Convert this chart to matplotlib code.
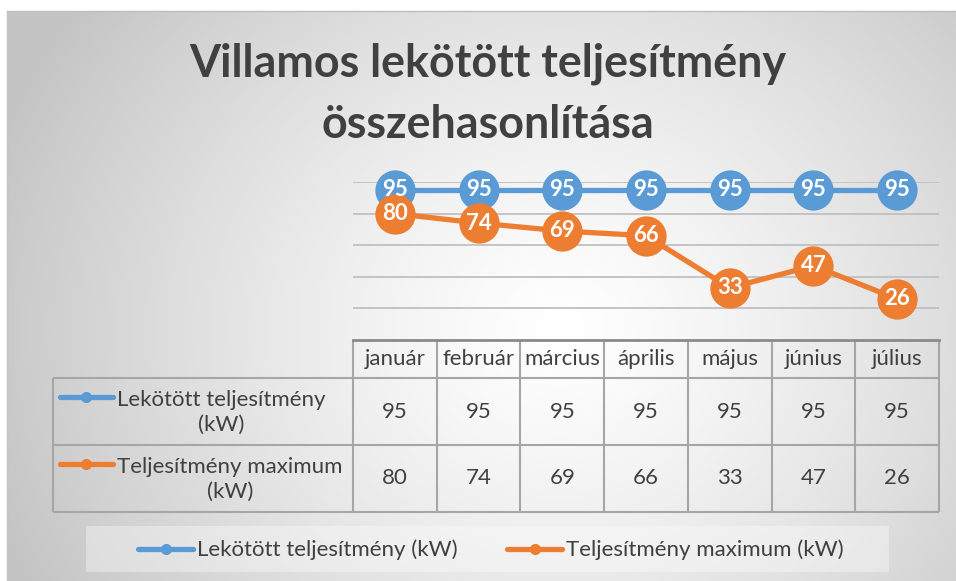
import numpy as np
import matplotlib.pyplot as plt
from matplotlib import transforms
from matplotlib.patches import Rectangle

plt.rcParams['font.family'] = ['Lato', 'DejaVu Sans']

# --- data ---
months = ['január', 'február', 'március', 'április', 'május', 'június', 'július']
lekotott = [95, 95, 95, 95, 95, 95, 95]
maximum = [80, 74, 69, 66, 33, 47, 26]
series_names = ['Lekötött teljesítmény (kW)', 'Teljesítmény maximum (kW)']
row_labels = ['Lekötött teljesítmény\n(kW)', 'Teljesítmény maximum\n(kW)']
title = 'Villamos lekötött teljesítmény\nösszehasonlítása'

BLUE = '#5b9bd5'
ORANGE = '#ed7d31'
TXT = '#404040'
GRID = '#c0c0c0'
TLINE = '#a6a6a6'
FS = 16

W, H = 956, 581
fig = plt.figure(figsize=(W / 100, H / 100), dpi=100)

# --- background: radial grey gradient ---
bg = fig.add_axes([0, 0, 1, 1], zorder=0)
bg.set_xlim(0, W)
bg.set_ylim(H, 0)
bg.axis('off')
yy, xx = np.mgrid[0:H, 0:W]
d = np.hypot(xx - 560, (yy - 330) * 1.1) / 600
shade = 1 - 0.23 * np.clip(d, 0, 1) ** 1.3
shade[:11, :] = 1.0
shade[:, :7] = 1.0
bg.imshow(np.dstack([shade] * 3), extent=(0, W, H, 0), aspect='auto',
          interpolation='bilinear')
bg.plot([7, W], [11, 11], color='#bdbdbd', lw=1)
bg.plot([7, 7], [11, H], color='#c4c4c4', lw=1)

# --- title ---
bg.text(488, 94, title, ha='center', va='center', fontsize=32.3,
        fontweight='bold', color=TXT, linespacing=1.55)

# --- main plot ---
ax = fig.add_axes([353 / W, (H - 340) / H, 586 / W, 158 / H], zorder=2)
ax.set_facecolor('none')
x = np.arange(len(months))
ax.set_xlim(-0.5, len(months) - 0.5)
ax.set_ylim(0, 100)
for v in [20, 40, 60, 80, 100]:
    ax.axhline(v, color=GRID, lw=1.3, zorder=0)
ax.set_xticks([])
ax.set_yticks([])
for s in ax.spines.values():
    s.set_visible(False)

for vals, col in [(lekotott, BLUE), (maximum, ORANGE)]:
    ax.plot(x, vals, color=col, lw=3.8, marker='o', ms=29,
            markeredgewidth=0, clip_on=False, zorder=3)
    for xi, v in zip(x, vals):
        ax.text(xi, v, str(v), ha='center', va='center', color='white',
                fontsize=16, fontweight='bold', zorder=4, clip_on=False)

# --- data table (x in data coords of ax, y in pixels) ---
ov = fig.add_axes([0, 0, 1, 1], zorder=1)
ov.set_xlim(0, W)
ov.set_ylim(H, 0)
ov.axis('off')
ov.set_facecolor('none')
tr = transforms.blended_transform_factory(ax.transData, ov.transData)

top, r1, r2, bot = 340, 378, 445, 512
n = len(months)
for i in range(n + 1):
    ov.plot([i - 0.5, i - 0.5], [top, bot], color=TLINE, lw=1.5,
            transform=tr, solid_capstyle='butt')
ov.plot([-0.5, n - 0.5], [top, top], color='#8a8a8a', lw=2, transform=tr)
for yv in [r1, r2, bot]:
    ov.plot([53, 939], [yv, yv], color=TLINE, lw=1.5, solid_capstyle='butt')
ov.plot([53, 53], [r1, bot], color=TLINE, lw=1.5, solid_capstyle='butt')

for i, m in enumerate(months):
    ov.text(i, (top + r1) / 2, m, ha='center', va='center', fontsize=FS,
            color=TXT, transform=tr)
    ov.text(i, (r1 + r2) / 2, str(lekotott[i]), ha='center', va='center',
            fontsize=FS, color=TXT, transform=tr)
    ov.text(i, (r2 + bot) / 2, str(maximum[i]), ha='center', va='center',
            fontsize=FS, color=TXT, transform=tr)

for (y0, y1), lab, col in [((r1, r2), row_labels[0], BLUE),
                           ((r2, bot), row_labels[1], ORANGE)]:
    yk = y0 + 19
    ov.plot([60, 113], [yk, yk], color=col, lw=3.8, solid_capstyle='round')
    ov.plot([86], [yk], 'o', color=col, ms=7)
    ov.text(117, (y0 + y1) / 2 + 1, lab, ha='left', va='center', fontsize=FS,
            color=TXT, multialignment='center', linespacing=1.3)

# --- legend box ---
ov.add_patch(Rectangle((86, 526), 803, 46, facecolor='white', alpha=0.35,
                       edgecolor='none'))
for xk, name, col in [(138, series_names[0], BLUE),
                      (507, series_names[1], ORANGE)]:
    ov.plot([xk, xk + 55], [549, 549], color=col, lw=3.8,
            solid_capstyle='round')
    ov.plot([xk + 28], [549], 'o', color=col, ms=7)
    ov.text(xk + 59, 550, name, ha='left', va='center', fontsize=FS,
            color=TXT)

fig.savefig('out.png', dpi=100)
